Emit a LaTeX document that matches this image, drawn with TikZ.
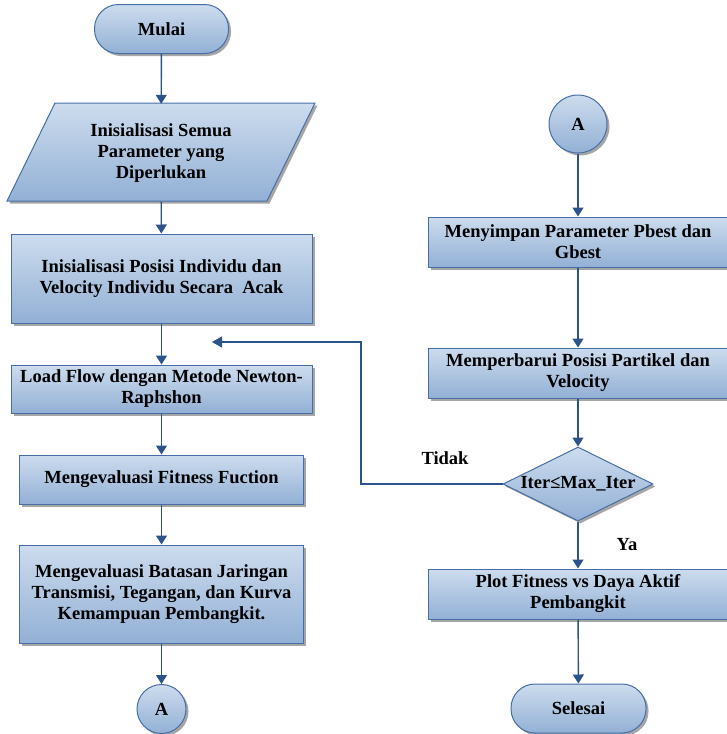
\documentclass[tikz,border=0pt]{standalone}
\usepackage{fontspec}
\setmainfont{Liberation Serif}
\usetikzlibrary{shapes.geometric,arrows.meta,shadows}
\definecolor{linec}{RGB}{44,84,140}
\definecolor{bordc}{RGB}{70,110,165}
\definecolor{topc}{RGB}{205,220,238}
\definecolor{botc}{RGB}{146,176,213}
\begin{document}
\begin{tikzpicture}[x=1pt,y=-1pt,
  base/.style={draw=bordc, line width=1pt, top color=topc, bottom color=botc,
    drop shadow={shadow xshift=2.5pt,shadow yshift=-2.5pt,fill=black,opacity=0.35},
    font=\fontsize{18.5}{21}\selectfont\bfseries, align=center, inner sep=1pt},
  proc/.style={base, rectangle},
  term/.style={base, rectangle, rounded corners=24pt, minimum width=134pt, minimum height=49pt},
  conn/.style={base, circle, inner sep=0pt},
  dec/.style={base, diamond, minimum width=150pt, minimum height=74pt, inner sep=0pt},
  txt/.style={font=\fontsize{18.5}{21}\selectfont\bfseries, align=center, inner sep=0pt},
  flow/.style={draw=linec, line width=1.4pt, -{Triangle[width=11pt,length=9pt]}},
  fline/.style={draw=linec, line width=1.1pt}
]
\useasboundingbox (0,0) rectangle (726,734);

% left column
\node[term] (mulai) at (161.5,29) {Mulai};
\path[draw=bordc, line width=1pt, top color=topc, bottom color=botc,
    drop shadow={shadow xshift=2.5pt,shadow yshift=-2.5pt,fill=black,opacity=0.35}]
    (7,201) -- (55,103) -- (315,103) -- (267,201) -- cycle;
\node[txt, minimum height=98pt] (param) at (161,153) {Inisialisasi Semua\\Parameter yang\\Diperlukan};
\node[proc, minimum width=301pt, minimum height=89pt] (init) at (161.5,278.5) {Inisialisasi Posisi Individu dan\\Velocity Individu Secara\ \ Acak};
\node[proc, minimum width=301pt, minimum height=48pt] (load) at (161.5,389) {Load Flow dengan Metode Newton-\\Raphshon};
\node[proc, minimum width=284pt, minimum height=49pt] (fit) at (161.5,479.5) {Mengevaluasi Fitness Fuction};
\node[proc, minimum width=284pt, minimum height=98pt] (eval) at (161.5,594) {Mengevaluasi Batasan Jaringan\\Transmisi, Tegangan, dan Kurva\\Kemampuan Pembangkit.};
\node[conn, minimum size=49pt] (a1) at (161.5,709) {A};

% right column
\node[conn, minimum size=58pt] (a2) at (578,124) {A};
\node[proc, minimum width=300pt, minimum height=50pt] (simpan) at (578,242) {Menyimpan Parameter Pbest dan\\Gbest};
\node[proc, minimum width=300pt, minimum height=50pt] (baru) at (578,373) {Memperbarui Posisi Partikel dan\\Velocity};
\node[dec] (iter) at (578,484) {};
\node[txt] (itertxt) at (578,484) {Iter≤Max\_Iter};
\node[proc, minimum width=300pt, minimum height=50pt] (plot) at (578,594) {Plot Fitness vs Daya Aktif\\Pembangkit};
\node[term, minimum width=135pt] (selesai) at (578.5,708.5) {Selesai};

\node[txt] (tidak) at (445,458) {Tidak};
\node[txt] (ya) at (627,545) {Ya};

% connectors
\draw[flow] (mulai) -- (param);
\draw[flow] (param) -- (init);
\draw[flow] (init) -- (load);
\draw[flow] (load) -- (fit);
\draw[flow] (fit) -- (eval);
\draw[flow] (eval) -- (a1);

\draw[flow] (a2) -- (simpan);
\draw[flow] (simpan) -- (baru);
\draw[flow] (baru) -- (iter);
\draw[flow] (iter) -- (plot);
\draw[flow] (plot) -- (selesai);

\coordinate (fb) at (212,342);
\coordinate (fbc) at (361,342);
\draw[fline, -{Triangle[width=11pt,length=10pt]}] (iter.west) -| (fbc) -- (fb);
\end{tikzpicture}
\end{document}
